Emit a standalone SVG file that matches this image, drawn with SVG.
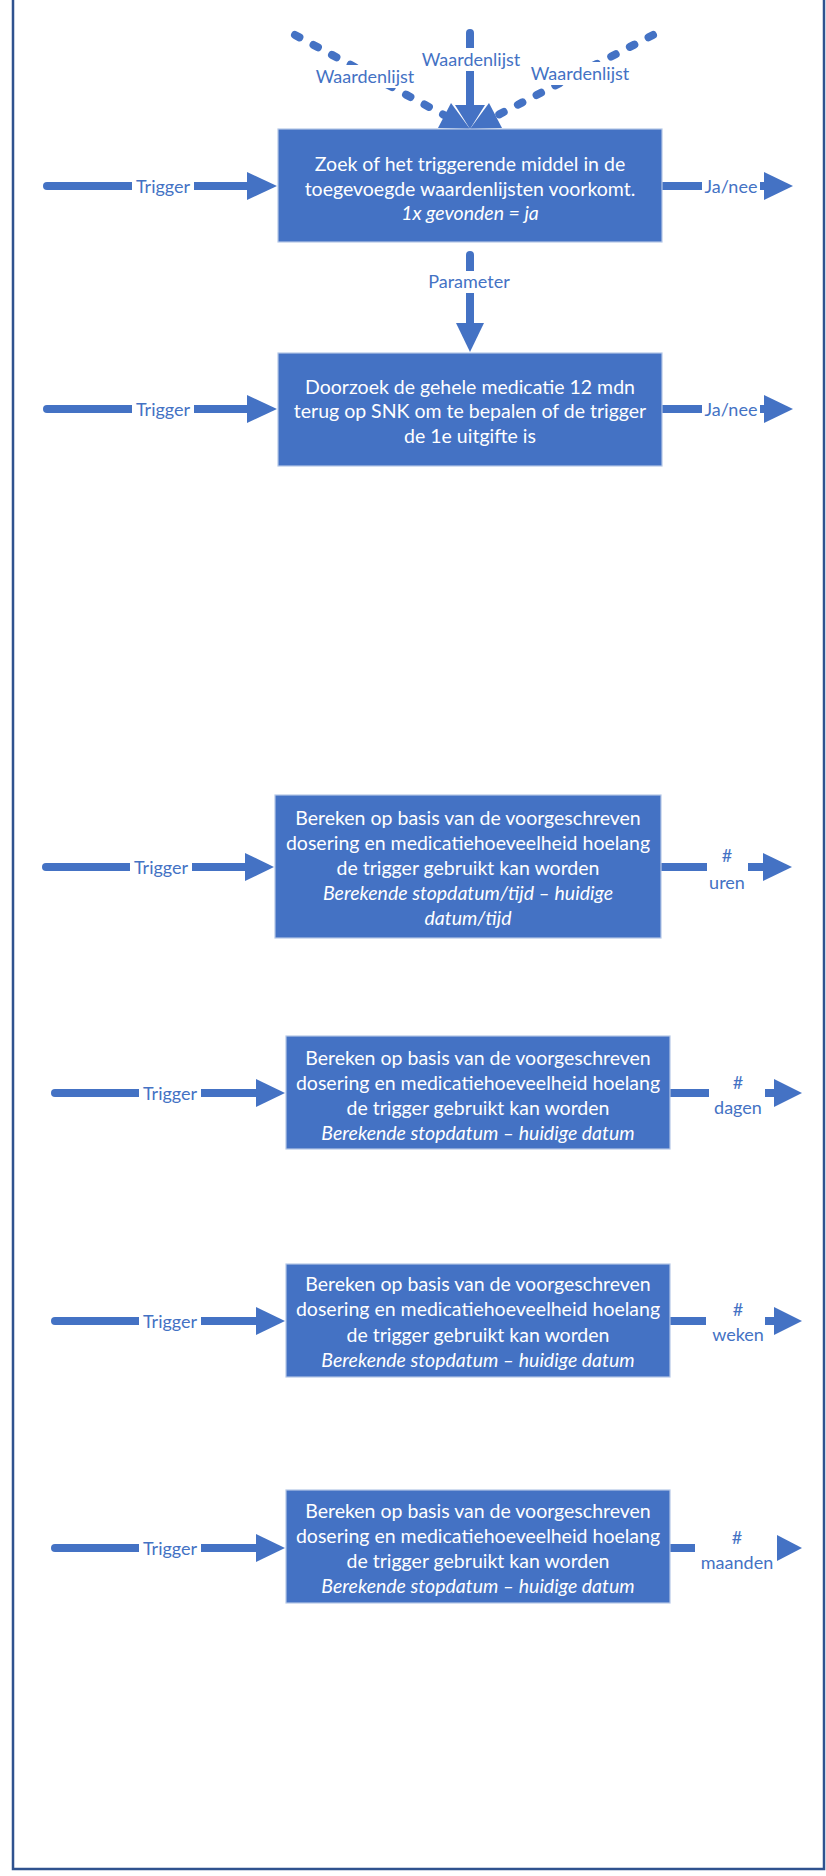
<svg xmlns="http://www.w3.org/2000/svg" width="826" height="1876" viewBox="0 0 826 1876">
<style>
.frame{fill:#ffffff;stroke:#2F528F;stroke-width:2.5}
.box{fill:#4472C4;stroke:#B4C7E7;stroke-width:1.2}
.bt{font-family:Lato,"Liberation Sans",sans-serif;font-size:19.5px;fill:#ffffff;text-anchor:middle;dominant-baseline:central}
.it{font-style:italic}
.ln{stroke:#4472C4;stroke-width:8;fill:none}
.rc{stroke-linecap:round}
.dash{stroke-dasharray:5 16;stroke-linecap:round}
.hd{fill:#4472C4}
.lb{font-family:Lato,"Liberation Sans",sans-serif;font-size:18px;fill:#4472C4;text-anchor:middle;dominant-baseline:central}
.bg{fill:#ffffff}
</style>
<rect class="frame" x="13" y="-10" width="811" height="1879"/>
<g id="connectors">
  <line class="ln dash" x1="295" y1="35" x2="444" y2="115"/>
  <polygon class="hd" points="470,129 438,128 451,103"/>
  <line class="ln dash" x1="653" y1="35" x2="496" y2="116"/>
  <polygon class="hd" points="470,129 502,128 489,103"/>
  <line class="ln rc" x1="470" y1="33" x2="470" y2="106"/>
  <polygon class="hd" points="455,105 485,105 470,129"/>
  <rect class="bg" x="414" y="48" width="114" height="23"/>
  <text class="lb" x="471" y="59">Waardenlijst</text>
  <rect class="bg" x="311" y="65" width="108" height="23"/>
  <text class="lb" x="365" y="76">Waardenlijst</text>
  <rect class="bg" x="526" y="62" width="108" height="23"/>
  <text class="lb" x="580" y="73">Waardenlijst</text>
  <line class="ln rc" x1="470" y1="255" x2="470" y2="324"/>
  <polygon class="hd" points="456,323 484,323 470,352"/>
  <rect class="bg" x="422" y="271" width="96" height="22"/>
  <text class="lb" x="469" y="281">Parameter</text>
  <line class="ln rc" x1="47" y1="186" x2="248" y2="186"/>
  <polygon class="hd" points="247,172 277,186 247,200"/>
  <rect class="bg" x="132" y="175" width="62" height="22"/>
  <text class="lb" x="163" y="186">Trigger</text>
  <line class="ln" x1="662" y1="186" x2="765" y2="186"/>
  <polygon class="hd" points="764,172 793,186 764,200"/>
  <rect class="bg" x="702" y="175" width="58" height="22"/>
  <text class="lb" x="731" y="186">Ja/nee</text>
  <line class="ln rc" x1="47" y1="409" x2="248" y2="409"/>
  <polygon class="hd" points="247,395 277,409 247,423"/>
  <rect class="bg" x="132" y="398" width="62" height="22"/>
  <text class="lb" x="163" y="409">Trigger</text>
  <line class="ln" x1="662" y1="409" x2="765" y2="409"/>
  <polygon class="hd" points="764,395 793,409 764,423"/>
  <rect class="bg" x="702" y="398" width="58" height="22"/>
  <text class="lb" x="731" y="409">Ja/nee</text>
  <line class="ln rc" x1="46" y1="867" x2="246" y2="867"/>
  <polygon class="hd" points="245,853 274,867 245,881"/>
  <rect class="bg" x="130" y="856" width="62" height="22"/>
  <text class="lb" x="161" y="867">Trigger</text>
  <line class="ln" x1="661" y1="867" x2="707" y2="867"/>
  <line class="ln" x1="748" y1="867" x2="764" y2="867"/>
  <polygon class="hd" points="763,853 792,867 763,881"/>
  <text class="lb" x="727" y="855">#</text>
  <text class="lb" x="727" y="882">uren</text>
  <line class="ln rc" x1="55" y1="1093" x2="257" y2="1093"/>
  <polygon class="hd" points="256,1079 285,1093 256,1107"/>
  <rect class="bg" x="139" y="1082" width="62" height="22"/>
  <text class="lb" x="170" y="1093">Trigger</text>
  <line class="ln" x1="670" y1="1093" x2="709" y2="1093"/>
  <line class="ln" x1="765" y1="1093" x2="775" y2="1093"/>
  <polygon class="hd" points="774,1079 802,1093 774,1107"/>
  <text class="lb" x="738" y="1082">#</text>
  <text class="lb" x="738" y="1107">dagen</text>
  <line class="ln rc" x1="55" y1="1321" x2="257" y2="1321"/>
  <polygon class="hd" points="256,1307 285,1321 256,1335"/>
  <rect class="bg" x="139" y="1310" width="62" height="22"/>
  <text class="lb" x="170" y="1321">Trigger</text>
  <line class="ln" x1="670" y1="1321" x2="706" y2="1321"/>
  <line class="ln" x1="765" y1="1321" x2="775" y2="1321"/>
  <polygon class="hd" points="774,1307 802,1321 774,1335"/>
  <text class="lb" x="738" y="1309">#</text>
  <text class="lb" x="738" y="1334">weken</text>
  <line class="ln rc" x1="55" y1="1548" x2="257" y2="1548"/>
  <polygon class="hd" points="256,1534 285,1548 256,1562"/>
  <rect class="bg" x="139" y="1537" width="62" height="22"/>
  <text class="lb" x="170" y="1548">Trigger</text>
  <line class="ln" x1="670" y1="1548" x2="695" y2="1548"/>
  <polygon class="hd" points="777,1535 802,1548 777,1561"/>
  <text class="lb" x="737" y="1537">#</text>
  <text class="lb" x="737" y="1562">maanden</text>
</g>
<g id="box1">
  <rect class="box" x="278" y="129" width="384" height="113"/>
  <text class="bt" x="470" y="163">Zoek of het triggerende middel in de</text>
  <text class="bt" x="470" y="188">toegevoegde waardenlijsten voorkomt.</text>
  <text class="bt it" x="470" y="212">1x gevonden = ja</text>
</g>
<g id="box2">
  <rect class="box" x="278" y="353" width="384" height="113"/>
  <text class="bt" x="470" y="386">Doorzoek de gehele medicatie 12 mdn</text>
  <text class="bt" x="470" y="410">terug op SNK om te bepalen of de trigger</text>
  <text class="bt" x="470" y="435">de 1e uitgifte is</text>
</g>
<g id="box3">
  <rect class="box" x="275" y="795" width="386" height="143"/>
  <text class="bt" x="468" y="817">Bereken op basis van de voorgeschreven</text>
  <text class="bt" x="468" y="842">dosering en medicatiehoeveelheid hoelang</text>
  <text class="bt" x="468" y="867">de trigger gebruikt kan worden</text>
  <text class="bt it" x="468" y="892">Berekende stopdatum/tijd – huidige</text>
  <text class="bt it" x="468" y="917">datum/tijd</text>
</g>
<g id="box4">
  <rect class="box" x="286" y="1036" width="384" height="113"/>
  <text class="bt" x="478" y="1057">Bereken op basis van de voorgeschreven</text>
  <text class="bt" x="478" y="1082">dosering en medicatiehoeveelheid hoelang</text>
  <text class="bt" x="478" y="1107">de trigger gebruikt kan worden</text>
  <text class="bt it" x="478" y="1132">Berekende stopdatum – huidige datum</text>
</g>
<g id="box5">
  <rect class="box" x="286" y="1264" width="384" height="113"/>
  <text class="bt" x="478" y="1283">Bereken op basis van de voorgeschreven</text>
  <text class="bt" x="478" y="1308">dosering en medicatiehoeveelheid hoelang</text>
  <text class="bt" x="478" y="1334">de trigger gebruikt kan worden</text>
  <text class="bt it" x="478" y="1359">Berekende stopdatum – huidige datum</text>
</g>
<g id="box6">
  <rect class="box" x="286" y="1490" width="384" height="113"/>
  <text class="bt" x="478" y="1510">Bereken op basis van de voorgeschreven</text>
  <text class="bt" x="478" y="1535">dosering en medicatiehoeveelheid hoelang</text>
  <text class="bt" x="478" y="1560">de trigger gebruikt kan worden</text>
  <text class="bt it" x="478" y="1585">Berekende stopdatum – huidige datum</text>
</g>
</svg>
